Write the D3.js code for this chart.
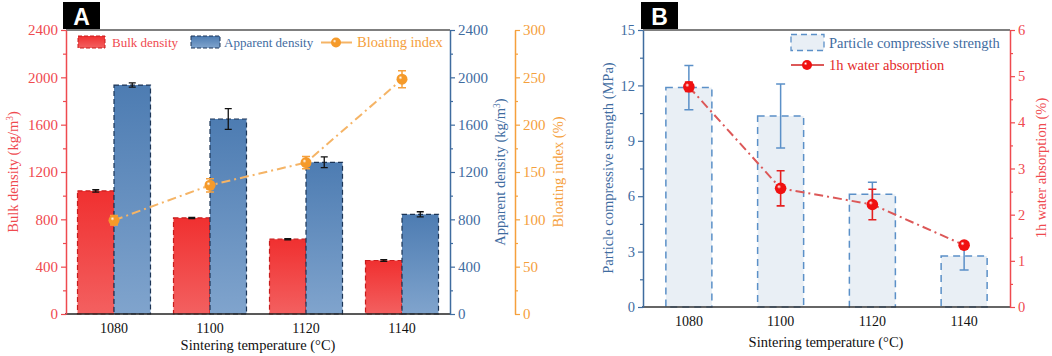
<!DOCTYPE html>
<html>
<head>
<meta charset="utf-8">
<script src="https://cdn.jsdelivr.net/npm/d3@7"></script>
<style>
  body { margin: 0; background: #fff; }
  text { font-family: "Liberation Serif", "Times New Roman", serif; }
</style>
</head>
<body>
<svg id="chart" width="1052" height="356"></svg>
<script>
// data
var temps = ["1080", "1100", "1120", "1140"];
var bulkDensity = [1040, 812, 632, 452];
var bulkErr = [10, 5, 5, 8];
var apparentDensity = [1935, 1648, 1282, 842];
var apparentErr = [18, 87, 45, 22];
var bloatingIndex = [99, 136, 160, 248];
var bloatingErr = [5, 7, 6.5, 9];
var compressive = [11.88, 10.34, 6.1, 2.76];
var compressiveErr = [1.2, 1.73, 0.65, 0.75];
var waterAbs = [4.77, 2.57, 2.22, 1.34];
var waterErr = [0.1, 0.38, 0.33, 0.05];

var ticksDensity = [0, 400, 800, 1200, 1600, 2000, 2400];
var ticksBloat = [0, 50, 100, 150, 200, 250, 300];
var ticksStrength = [0, 3, 6, 9, 12, 15];
var ticksWater = [0, 1, 2, 3, 4, 5, 6];

var RED = "#ef4a4f", BLUE = "#3f6c9f", ORANGE = "#f5a03c";
var SERIF = "'Liberation Serif', 'Times New Roman', serif";

var svg = d3.select("#chart");
var defs = svg.append("defs");

function linGrad(id, c1, c2) {
  var g = defs.append("linearGradient").attr("id", id)
    .attr("x1", 0).attr("y1", 0).attr("x2", 0).attr("y2", 1);
  g.append("stop").attr("offset", "0%").attr("stop-color", c1);
  g.append("stop").attr("offset", "100%").attr("stop-color", c2);
}
function ballGrad(id, c) {
  var g = defs.append("radialGradient").attr("id", id)
    .attr("cx", "40%").attr("cy", "40%").attr("r", "60%")
    .attr("fx", "35%").attr("fy", "35%");
  g.append("stop").attr("offset", "0%").attr("stop-color", "#fff");
  g.append("stop").attr("offset", "30%").attr("stop-color", c);
  g.append("stop").attr("offset", "100%").attr("stop-color", c);
}
linGrad("gRed", "#f03030", "#f36060");
linGrad("gBlue", "#4d7cb2", "#80a4cd");
ballGrad("bOrange", "#f59a2a");
ballGrad("bRed", "#f01010");

function minorTicks(ticks) {
  var m = [];
  for (var i = 0; i < ticks.length - 1; i++) m.push((ticks[i] + ticks[i + 1]) / 2);
  return m;
}
function drawAxis(gen, ticks, x, color, fs) {
  var g = svg.append("g").attr("transform", "translate(" + x + ",0)");
  g.call(gen.tickValues(ticks).tickFormat(d3.format("d"))
    .tickSize(5).tickSizeOuter(0).tickPadding(3));
  g.attr("font-family", SERIF).attr("font-size", fs);
  g.select(".domain").attr("stroke", color).attr("stroke-width", 1.5);
  g.selectAll(".tick line").attr("stroke", color).attr("stroke-width", 1.2);
  g.selectAll(".tick text").attr("fill", color);
  var m = svg.append("g").attr("transform", "translate(" + x + ",0)");
  m.call(gen.tickValues(minorTicks(ticks)).tickSize(3).tickFormat(""));
  m.select(".domain").remove();
  m.selectAll(".tick line").attr("stroke", color).attr("stroke-width", 1.2);
}
function errBars(g, xs, vals, errs, y, color, half, w) {
  g.selectAll(null).data(vals).enter().append("path")
    .attr("fill", "none").attr("stroke", color).attr("stroke-width", w)
    .attr("d", function(d, i) {
      var x = xs(i), t = y(d + errs[i]), b = y(d - errs[i]);
      return "M" + (x - half) + "," + t + "H" + (x + half) +
        "M" + x + "," + t + "V" + b +
        "M" + (x - half) + "," + b + "H" + (x + half);
    });
}
function title(text, x, y, color, fs, rot, sup) {
  var t = svg.append("text").attr("text-anchor", "middle")
    .attr("fill", color).style("font-size", fs + "px")
    .attr("transform", "translate(" + x + "," + y + ")" + (rot ? " rotate(-90)" : ""));
  if (sup) {
    t.append("tspan").text(text);
    t.append("tspan").attr("dy", -5).style("font-size", (fs * 0.65) + "px").text("3");
    t.append("tspan").attr("dy", 5).text(")");
  } else {
    t.text(text);
  }
}
function panelLabel(txt, x) {
  svg.append("rect").attr("x", x).attr("y", 2).attr("width", 37).attr("height", 27).attr("fill", "#000");
  svg.append("text").attr("x", x + 18.5).attr("y", 25).attr("text-anchor", "middle")
    .attr("fill", "#fff").style("font-family", "'Liberation Sans', Arial, sans-serif")
    .style("font-weight", "bold").style("font-size", "23px").text(txt);
}
function catAxis(scale, y) {
  var g = svg.append("g").attr("transform", "translate(0," + y + ")")
    .call(d3.axisBottom(scale).tickSize(0).tickPadding(9));
  g.attr("font-family", SERIF).attr("font-size", 14);
  g.select(".domain").remove();
  g.selectAll("text").attr("fill", "#111");
}

// ---------------- Panel A ----------------
var xA = d3.scaleBand().domain(temps).range([66, 450]);
var yA = d3.scaleLinear().domain([0, 2400]).range([314, 30]);
var yBl = d3.scaleLinear().domain([0, 300]).range([314, 30]);
var bwA = 36.5;
var cA = function(i) { return xA(temps[i]) + xA.bandwidth() / 2; };

var gA = svg.append("g");
gA.selectAll(null).data(bulkDensity).enter().append("rect")
  .attr("x", function(d, i) { return cA(i) - bwA; })
  .attr("y", function(d) { return yA(d); })
  .attr("width", bwA).attr("height", function(d) { return yA(0) - yA(d); })
  .attr("fill", "url(#gRed)").attr("stroke", "#c81c1c")
  .attr("stroke-width", 1.2).attr("stroke-dasharray", "5,3");
gA.selectAll(null).data(apparentDensity).enter().append("rect")
  .attr("x", function(d, i) { return cA(i); })
  .attr("y", function(d) { return yA(d); })
  .attr("width", bwA).attr("height", function(d) { return yA(0) - yA(d); })
  .attr("fill", "url(#gBlue)").attr("stroke", "#1c3556")
  .attr("stroke-width", 1.2).attr("stroke-dasharray", "5,3");
errBars(gA, function(i) { return cA(i) - bwA / 2; }, bulkDensity, bulkErr, yA, "#111", 3.5, 1.3);
errBars(gA, function(i) { return cA(i) + bwA / 2; }, apparentDensity, apparentErr, yA, "#111", 3.5, 1.3);

var lineA = d3.line().x(function(d, i) { return cA(i); }).y(function(d) { return yBl(d); });
gA.append("path").datum(bloatingIndex).attr("d", lineA)
  .attr("fill", "none").attr("stroke", "#f5b466").attr("stroke-width", 2)
  .attr("stroke-dasharray", "9,4,2,4");
errBars(gA, cA, bloatingIndex, bloatingErr, yBl, ORANGE, 4, 1.5);
gA.selectAll(null).data(bloatingIndex).enter().append("circle")
  .attr("cx", function(d, i) { return cA(i); }).attr("cy", function(d) { return yBl(d); })
  .attr("r", 5.5).attr("fill", "url(#bOrange)");

// frame
svg.append("line").attr("x1", 66).attr("x2", 450).attr("y1", 30).attr("y2", 30)
  .attr("stroke", "#555").attr("stroke-width", 1.5);
svg.append("line").attr("x1", 65).attr("x2", 451).attr("y1", 314).attr("y2", 314)
  .attr("stroke", "#222").attr("stroke-width", 1.5);

drawAxis(d3.axisLeft(yA), ticksDensity, 66, RED, 15);
drawAxis(d3.axisRight(yA), ticksDensity, 450, BLUE, 15);
drawAxis(d3.axisRight(yBl), ticksBloat, 515, ORANGE, 15);
catAxis(xA, 314);

title("Bulk density (kg/m", 18, 172, RED, 14.5, true, true);
title("Apparent density (kg/m", 505, 172, BLUE, 14.5, true, true);
title("Bloating index (%)", 563, 172, ORANGE, 14.5, true, false);
title("Sintering temperature (\u00b0C)", 258, 350, "#111", 14.5, false, false);

// legend A
svg.append("rect").attr("x", 78).attr("y", 36).attr("width", 27).attr("height", 12)
  .attr("fill", "url(#gRed)").attr("stroke", "#c81c1c").attr("stroke-dasharray", "4,2");
svg.append("text").attr("x", 112).attr("y", 46.5).attr("fill", RED).style("font-size", "13px").text("Bulk density");
svg.append("rect").attr("x", 191).attr("y", 36).attr("width", 29).attr("height", 12)
  .attr("fill", "url(#gBlue)").attr("stroke", "#1c3556").attr("stroke-dasharray", "4,2");
svg.append("text").attr("x", 224).attr("y", 46.5).attr("fill", BLUE).style("font-size", "13px").text("Apparent density");
svg.append("line").attr("x1", 321).attr("x2", 352).attr("y1", 42.5).attr("y2", 42.5)
  .attr("stroke", "#f5b466").attr("stroke-width", 2);
svg.append("circle").attr("cx", 336).attr("cy", 42.5).attr("r", 5).attr("fill", "url(#bOrange)");
svg.append("text").attr("x", 357).attr("y", 47).attr("fill", ORANGE).style("font-size", "14.5px").text("Bloating index");

panelLabel("A", 63);

// ---------------- Panel B ----------------
var xB = d3.scaleBand().domain(temps).range([643, 1010]);
var yS = d3.scaleLinear().domain([0, 15]).range([307, 30]);
var yW = d3.scaleLinear().domain([0, 6]).range([307, 30]);
var bwB = 46;
var cB = function(i) { return xB(temps[i]) + xB.bandwidth() / 2; };
var PBLUE = "#5b90c8";

var gB = svg.append("g");
gB.selectAll(null).data(compressive).enter().append("rect")
  .attr("x", function(d, i) { return cB(i) - bwB / 2; })
  .attr("y", function(d) { return yS(d); })
  .attr("width", bwB).attr("height", function(d) { return yS(0) - yS(d); })
  .attr("fill", "#e9eff5").attr("stroke", PBLUE)
  .attr("stroke-width", 1.5).attr("stroke-dasharray", "7,5");
errBars(gB, cB, compressive, compressiveErr, yS, PBLUE, 4.5, 1.5);

var lineB = d3.line().x(function(d, i) { return cB(i); }).y(function(d) { return yW(d); });
gB.append("path").datum(waterAbs).attr("d", lineB)
  .attr("fill", "none").attr("stroke", "#dc5858").attr("stroke-width", 2)
  .attr("stroke-dasharray", "9,4,2,4");
errBars(gB, cB, waterAbs, waterErr, yW, "#e42020", 4, 1.6);
gB.selectAll(null).data(waterAbs).enter().append("circle")
  .attr("cx", function(d, i) { return cB(i); }).attr("cy", function(d) { return yW(d); })
  .attr("r", 5.8).attr("fill", "url(#bRed)");

svg.append("line").attr("x1", 643).attr("x2", 1010).attr("y1", 30).attr("y2", 30)
  .attr("stroke", "#555").attr("stroke-width", 1.5);
svg.append("line").attr("x1", 642).attr("x2", 1011).attr("y1", 307).attr("y2", 307)
  .attr("stroke", "#333").attr("stroke-width", 1.5);

drawAxis(d3.axisLeft(yS), ticksStrength, 643, BLUE, 14.5);
drawAxis(d3.axisRight(yW), ticksWater, 1010, RED, 14.5);
catAxis(xB, 307);

title("Particle compressive strength (MPa)", 613, 168, BLUE, 14.5, true, false);
title("1h water absorption (%)", 1046, 168, RED, 14.5, true, false);
title("Sintering temperature (\u00b0C)", 826, 347, "#111", 14.5, false, false);

// legend B
svg.append("rect").attr("x", 791).attr("y", 34.5).attr("width", 33).attr("height", 16)
  .attr("fill", "#e9eff5").attr("stroke", PBLUE).attr("stroke-width", 1.3).attr("stroke-dasharray", "6,4");
svg.append("text").attr("x", 829).attr("y", 48).attr("fill", BLUE).style("font-size", "14.5px").text("Particle compressive strength");
svg.append("line").attr("x1", 791).attr("x2", 824).attr("y1", 65).attr("y2", 65)
  .attr("stroke", "#dc5858").attr("stroke-width", 2);
svg.append("circle").attr("cx", 807).attr("cy", 65).attr("r", 5).attr("fill", "url(#bRed)");
svg.append("text").attr("x", 829).attr("y", 70).attr("fill", "#e42a2a").style("font-size", "14.5px").text("1h water absorption");

panelLabel("B", 641);
</script>
</body>
</html>
